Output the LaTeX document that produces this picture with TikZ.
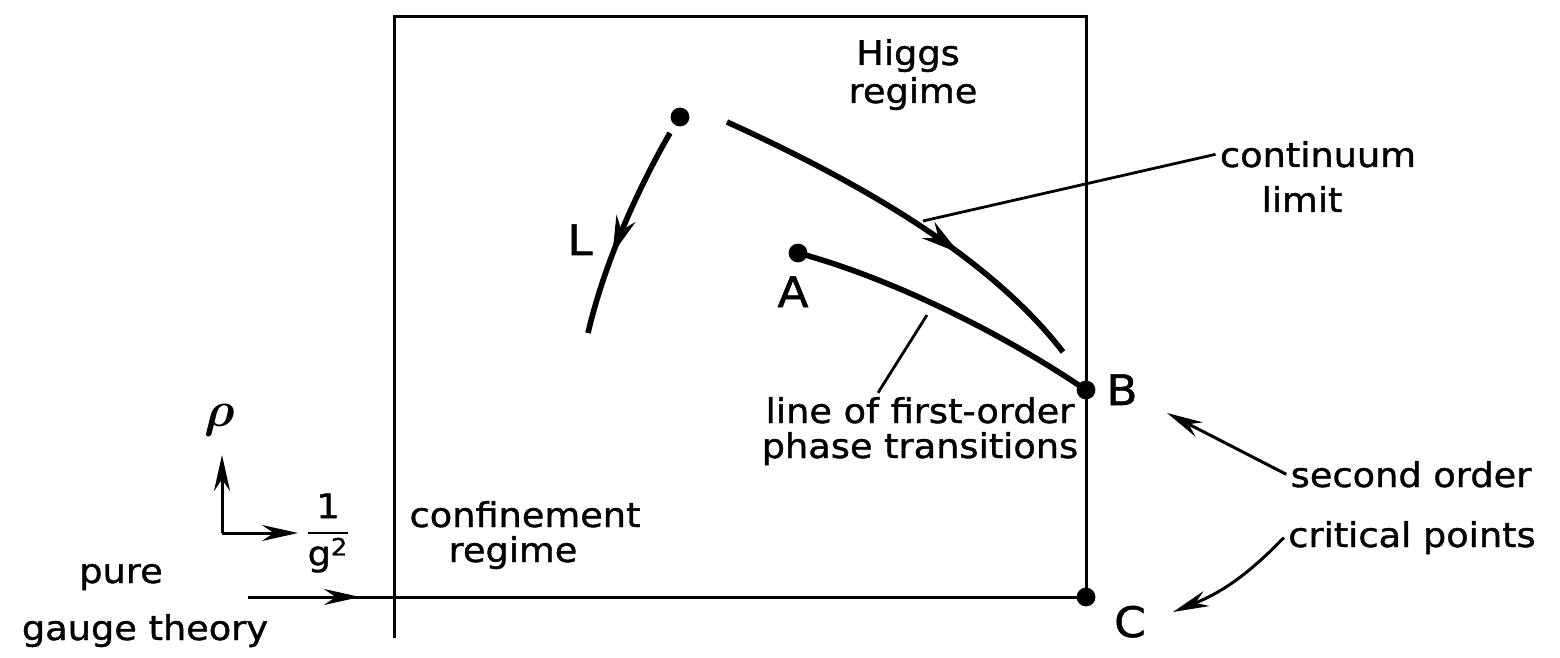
\documentclass[tikz,border=0pt]{standalone}
\usepackage{amsmath}
\usepackage{fontspec}
\setmainfont{DejaVu Sans}[FakeStretch=1.08, FakeBold=1.2]
\usepackage{tikz}
\usetikzlibrary{arrows.meta,decorations.markings,calc}
\tikzset{every node/.append style={font=\fontsize{17}{20}\selectfont, inner sep=2pt}}
\tikzset{
  txt/.style={anchor=base},
  lbl/.style={anchor=base, font=\fontsize{21}{24}\selectfont},
  boxline/.style={line width=1.5pt},
  flow/.style={line width=2.8pt},
  pointer/.style={line width=1.4pt},
  midarrow/.style={postaction={decorate}, decoration={markings,
      mark=at position #1 with {\arrow{Stealth[length=19pt,width=10pt]}}}},
}

\begin{document}
\begin{tikzpicture}[x=0.5pt, y=-0.5pt, >={Stealth[length=18pt,width=8pt]}]
    \useasboundingbox (0,0) rectangle (1560,658);
    % the phase diagram box
    \coordinate (TL) at (394,17);
    \coordinate (TR) at (1086,17);
    \coordinate (LB) at (394,638);
    \coordinate (C) at (1086,597);
    \coordinate (B) at (1086,390);
    \coordinate (A) at (798,253);
    \coordinate (P) at (680,117);
    \coordinate (PG) at (248,597);
    \coordinate (PGtip) at (360,597);
    \draw[boxline] (LB) -- (TL) -- (TR) -- (C);
    \draw[boxline] (PG) -- (C);
    \draw[boxline, ->] (PG) -- (PGtip);
    % axes
    \coordinate (O) at (222,533);
    \coordinate (Oup) at (222,455);
    \coordinate (Oright) at (298,533);
    \draw[boxline, ->] (O) -- (Oup);
    \draw[boxline, ->] (O) -- (Oright);
    \node (rho) at (220,420) {\fontsize{30}{30}\selectfont$\boldsymbol{\rho}$};
    \node (ginv) at (328,533) {$\dfrac{\text{1}}{\text{g}^{\text{2}}}$};
    % flows and the first-order line
    \coordinate (Ls) at (670,133);
    \coordinate (Le) at (588,333);
    \draw[flow, midarrow=0.62] (Ls) .. controls (640,185) and (605,260) .. (Le);
    \coordinate (Cs) at (727,122);
    \coordinate (Ce) at (1063,352);
    \draw[flow, midarrow=0.65] (Cs) .. controls (837,172) and (983,248) .. (Ce);
    \draw[flow] (A) .. controls (880,275) and (990,325) .. (B);
    \foreach \p in {P,A,B,C}
        \fill (\p) circle (4.7pt);
    % point labels
    \node[lbl] (Llab) at (580,255) {L};
    \node[lbl] (Alab) at (793,307) {A};
    \node[lbl] (Blab) at (1122,405) {B};
    \node[lbl] (Clab) at (1130,637) {C};
    % texts
    \node[txt] (higgs) at (908,65) {Higgs};
    \node[txt] (higgsb) at (913,103) {regime};
    \node[txt] (cont) at (1318,167) {continuum};
    \node[txt] (contb) at (1302,212) {limit};
    \node[txt] (lofo) at (920,423) {line of first-order};
    \node[txt] (lofob) at (920,458) {phase transitions};
    \node[txt] (conf) at (525,527) {confinement};
    \node[txt] (confb) at (513,562) {regime};
    \node[txt] (so) at (1411,487) {second order};
    \node[txt] (sob) at (1412,547) {critical points};
    \node[txt] (pure) at (121,583) {pure};
    \node[txt] (pureb) at (145,640) {gauge theory};
    % pointers
    \coordinate (contend) at (923,221);
    \draw[pointer] (cont.west) -- (contend);
    \coordinate (lofoend) at (927,315);
    \draw[pointer] ($(lofo.north)+(-42,0)$) -- (lofoend);
    \coordinate (tipB) at (1167,413);
    \coordinate (tipC) at (1173,612);
    \draw[boxline, ->] (so.west) -- (tipB);
    \draw[boxline, ->] (sob.west) to[bend left=12] (tipC);
\end{tikzpicture}
\end{document}
